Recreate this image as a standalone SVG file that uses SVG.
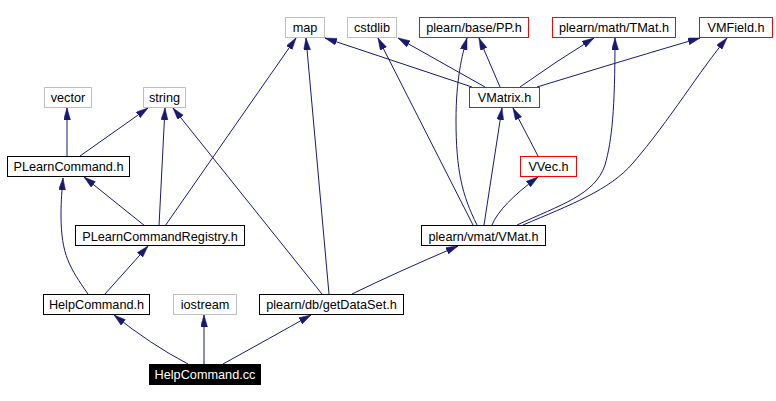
<svg xmlns="http://www.w3.org/2000/svg" width="776" height="401" viewBox="0 0 776 401">
<style>
.n rect{fill:#fff;stroke:#000;stroke-width:1}
.n.red rect{stroke:#ff0000}
.n.sys rect{stroke:#bfbfbf}
.n text{font-family:"Liberation Sans",Arial,sans-serif;font-size:12.7px;text-anchor:middle;fill:#000}
.n.root rect{fill:#000;stroke:#000}
.n.root text{fill:#fff}
#edges path{fill:none;stroke:#191970;stroke-width:1;marker-end:url(#ah)}
</style>
<defs>
<marker id="ah" markerUnits="userSpaceOnUse" markerWidth="12" markerHeight="8" refX="12" refY="3.5" orient="auto">
<path d="M0,0 L12,3.5 L0,7 z" fill="#191970" stroke="#191970" stroke-width="0.5"/>
</marker>
</defs>
<rect width="776" height="401" fill="#fff"/>
<g id="edges">
<path d="M188,364 Q150,344 114,315"/>
<path d="M204,364 L204,315"/>
<path d="M223,364 Q270,338 311,315"/>
<path d="M88,294 C70,268 61,255 61,215 C61,200 62,190 63,178"/>
<path d="M105,294 L148,246"/>
<path d="M145,226 L84,177"/>
<path d="M159,226 L165,108"/>
<path d="M165,226 L296,38"/>
<path d="M67,156 L67,108"/>
<path d="M80,156 L148,108"/>
<path d="M322,294 L173,108"/>
<path d="M329,294 L306,38"/>
<path d="M352,294 Q395,273 458,246"/>
<path d="M473,225 L378,38"/>
<path d="M477,225 C462,195 456,170 456,120 C456,80 462,55 467,38"/>
<path d="M484,225 L502,108"/>
<path d="M492,225 Q500,205 538,177"/>
<path d="M517,225 C560,205 595,195 605,165 C612,140 615,110 615,38"/>
<path d="M523,225 C570,205 610,190 633,163 C670,120 700,70 727,38"/>
<path d="M472,87 L325,38"/>
<path d="M485,87 L398,38"/>
<path d="M500,87 L479,38"/>
<path d="M520,87 Q555,62 594,38"/>
<path d="M537,87 Q635,57 700,38"/>
<path d="M538,156 L513,108"/>
</g>
<g id="map" class="n sys"><rect x="285.5" y="17.5" width="39" height="20"/><text x="305" y="32">map</text></g>
<g id="cstdlib" class="n sys"><rect x="347.5" y="17.5" width="49" height="20"/><text x="372" y="32">cstdlib</text></g>
<g id="pp" class="n red"><rect x="419.5" y="17.5" width="109" height="20"/><text x="474" y="32">plearn/base/PP.h</text></g>
<g id="tmat" class="n red"><rect x="552.5" y="17.5" width="123" height="20"/><text x="614" y="32">plearn/math/TMat.h</text></g>
<g id="vmfield" class="n red"><rect x="699.5" y="17.5" width="73" height="20"/><text x="736" y="32">VMField.h</text></g>
<g id="vector" class="n sys"><rect x="44.5" y="87.5" width="47" height="20"/><text x="68" y="102">vector</text></g>
<g id="string" class="n sys"><rect x="143.5" y="87.5" width="42" height="20"/><text x="164.5" y="102">string</text></g>
<g id="vmatrix" class="n red"><rect x="469.5" y="87.5" width="70" height="20"/><text x="504.5" y="102">VMatrix.h</text></g>
<g id="plearncommand" class="n"><rect x="7.5" y="156.5" width="122" height="20"/><text x="68.5" y="171">PLearnCommand.h</text></g>
<g id="vvec" class="n red"><rect x="520.5" y="156.5" width="56" height="20"/><text x="548.5" y="171">VVec.h</text></g>
<g id="registry" class="n"><rect x="75.5" y="225.5" width="169" height="20"/><text x="160" y="240.5">PLearnCommandRegistry.h</text></g>
<g id="vmat" class="n"><rect x="421.5" y="225.5" width="124" height="20"/><text x="483.5" y="240.5">plearn/vmat/VMat.h</text></g>
<g id="helpcommandh" class="n"><rect x="43.5" y="294.5" width="106" height="20"/><text x="96.5" y="309">HelpCommand.h</text></g>
<g id="iostream" class="n sys"><rect x="173.5" y="294.5" width="63" height="20"/><text x="205" y="309">iostream</text></g>
<g id="getdataset" class="n"><rect x="259.5" y="294.5" width="144" height="20"/><text x="331.5" y="309">plearn/db/getDataSet.h</text></g>
<g id="helpcommandcc" class="n root"><rect x="149.5" y="364.5" width="111" height="20"/><text x="205" y="379">HelpCommand.cc</text></g>
</svg>
